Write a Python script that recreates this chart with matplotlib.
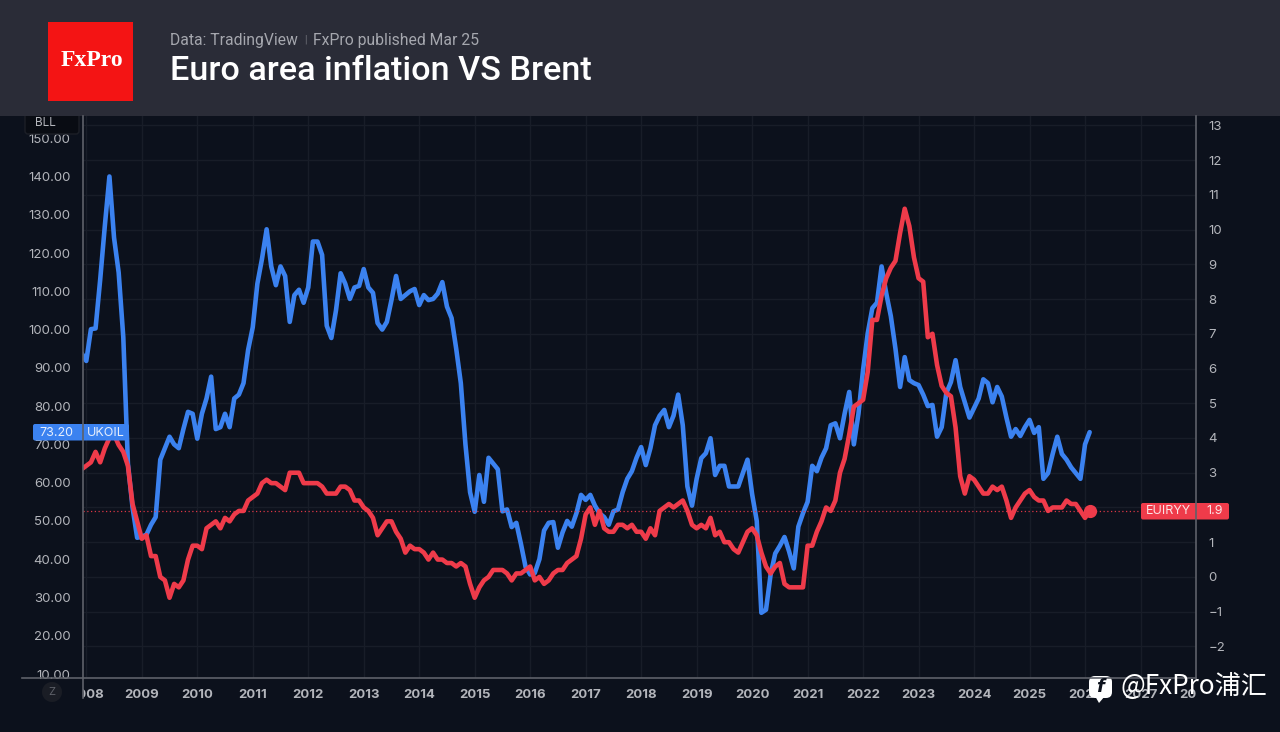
import numpy as np
import matplotlib
matplotlib.use("Agg")
import matplotlib.pyplot as plt
from matplotlib.patches import Rectangle, FancyBboxPatch, Polygon, Circle
from matplotlib.transforms import Bbox

# monthly values, first one is Dec 2007 (hidden behind the axis)
ukoil = [93.8,
    91.8, 100.1, 100.3, 113, 127, 140, 124, 114.9, 98, 65, 53.5, 45.6,
    45.9, 46.4, 49, 51, 66, 69, 72, 70, 69, 74, 78.5, 78,
    71.5, 78, 82, 87.7, 74, 74.5, 78, 74.5, 82, 83, 86, 94.7,
    100.6, 112, 118.5, 126.2, 116.5, 111.6, 116.5, 114, 102, 109, 110.4, 107,
    111, 123, 123, 119.5, 101, 97.8, 105, 114.7, 112, 108, 111, 111.4,
    115.8, 111, 109.6, 101.7, 100, 102, 107.7, 114, 108, 109, 110, 110.6,
    106.4, 109, 107.7, 108, 109.4, 112.4, 106, 103, 95, 86, 70, 57.5,
    52.4, 62, 55, 66.5, 65, 63.5, 52.5, 53, 48.4, 49.5, 44, 38,
    36, 36.4, 40, 47.5, 49.5, 49.7, 43, 47, 50, 48.5, 52, 56.8,
    55.5, 56.8, 54, 52, 51, 49, 52.5, 53, 57.5, 61, 63, 66.5,
    69.3, 64.6, 69, 75, 77.5, 79, 74.5, 77.5, 83, 75, 59, 54,
    61, 66.4, 67.7, 71.6, 62, 64.4, 64.4, 59, 59, 59, 62.5, 66,
    57, 50, 26, 26.8, 36, 41.5, 43.5, 45.8, 42, 37.6, 48.5, 52,
    55, 64.4, 63, 66.5, 69, 75, 75.5, 71.6, 78, 83.7, 70, 78,
    89.5, 99, 105.6, 107, 116.5, 109.5, 103.5, 95, 85, 92.8, 86.8, 86,
    85.5, 83, 80, 80.3, 72, 74.5, 83.4, 86.3, 92, 85, 81, 77,
    79.5, 82, 87, 86, 81, 85, 82.5, 77, 72, 74, 72.2, 74.5,
    76.4, 73, 74.5, 61, 62.5, 67.5, 72, 67.5, 66, 64, 62.5, 61,
    70, 73.2]

euiryy = [3.1,
    3.2, 3.3, 3.6, 3.3, 3.7, 4.0, 4.1, 3.8, 3.6, 3.2, 2.1, 1.6,
    1.1, 1.2, 0.6, 0.6, 0.0, -0.1, -0.6, -0.2, -0.3, -0.1, 0.5, 0.9,
    0.9, 0.8, 1.4, 1.5, 1.6, 1.4, 1.7, 1.6, 1.8, 1.9, 1.9, 2.2,
    2.3, 2.4, 2.7, 2.8, 2.7, 2.7, 2.6, 2.5, 3.0, 3.0, 3.0, 2.7,
    2.7, 2.7, 2.7, 2.6, 2.4, 2.4, 2.4, 2.6, 2.6, 2.5, 2.2, 2.2,
    2.0, 1.9, 1.7, 1.2, 1.4, 1.6, 1.6, 1.3, 1.1, 0.7, 0.9, 0.8,
    0.8, 0.7, 0.5, 0.7, 0.5, 0.5, 0.4, 0.4, 0.3, 0.4, 0.3, -0.2,
    -0.6, -0.3, -0.1, 0.0, 0.2, 0.2, 0.2, 0.1, -0.1, 0.1, 0.1, 0.2,
    0.3, -0.1, 0.0, -0.2, -0.1, 0.1, 0.2, 0.2, 0.4, 0.5, 0.6, 1.1,
    1.8, 2.0, 1.5, 1.9, 1.4, 1.3, 1.3, 1.5, 1.5, 1.4, 1.5, 1.3,
    1.3, 1.1, 1.4, 1.2, 1.9, 2.0, 2.1, 2.0, 2.1, 2.2, 1.9, 1.5,
    1.4, 1.5, 1.4, 1.7, 1.2, 1.3, 1.0, 1.0, 0.8, 0.7, 1.0, 1.3,
    1.4, 1.2, 0.7, 0.3, 0.1, 0.3, 0.4, -0.2, -0.3, -0.3, -0.3, -0.3,
    0.9, 0.9, 1.3, 1.6, 2.0, 1.9, 2.2, 3.0, 3.4, 4.1, 4.9, 5.0,
    5.1, 5.9, 7.4, 7.4, 8.1, 8.6, 8.9, 9.1, 9.9, 10.6, 10.1, 9.2,
    8.6, 8.5, 6.9, 7.0, 6.1, 5.5, 5.3, 5.2, 4.3, 2.9, 2.4, 2.9,
    2.8, 2.6, 2.4, 2.4, 2.6, 2.5, 2.6, 2.2, 1.7, 2.0, 2.2, 2.4,
    2.5, 2.3, 2.2, 2.2, 1.9, 2.0, 2.0, 2.0, 2.2, 2.1, 2.1, 1.9,
    1.7, 1.9]

years = list(range(2008, 2029))
left_ticks = [10, 20, 30, 40, 50, 60, 70, 80, 90, 100, 110, 120, 130, 140, 150]
right_ticks = list(range(-2, 14))

BG = "#0c111c"
HEADER = "#2a2c37"
GRID = "#181d28"
AXIS = "#5e6169"
LABEL = "#b3b5bb"
BLUE = "#3b82f0"
RED = "#ef3b4a"
FONT = "Inter"

months = np.arange(-1, len(ukoil) - 1)

fig = plt.figure(figsize=(12.8, 7.32), dpi=100, facecolor=BG)
rect = [83 / 1280, (732 - 678) / 732, (1196 - 83) / 1280, (678 - 116) / 732]

# right scale sits at the bottom, it owns the grid
ax_r = fig.add_axes(rect, facecolor=BG)
ax_r.set_xlim((83 - 86.3) / 4.625, (1196 - 86.3) / 4.625)
ax_r.set_ylim(-2.91, 13.27)
ax_r.set_yticks(right_ticks)
ax_r.set_yticklabels([str(t).replace("-", "\u2212") for t in right_ticks])
ax_r.set_xticks([(y - 2008) * 12 for y in years])
ax_r.set_xticklabels([str(y) for y in years])
ax_r.grid(True, color=GRID, lw=1)
ax_r.set_axisbelow(True)

ax_l = ax_r.twinx()
ax_l.set_ylim(8.96, 155.8)
ax_l.set_yticks(left_ticks)
ax_l.set_yticklabels([f"{t:.2f}" for t in left_ticks])
ax_l.plot(months, ukoil, color=BLUE, lw=3.3, solid_joinstyle="round", solid_capstyle="round")

ax_top = ax_r.twinx()
ax_top.set_ylim(ax_r.get_ylim())
ax_top.axis("off")
ax_top.axhline(euiryy[-1], color=RED, lw=0.9, ls=(0, (1, 2)), alpha=0.9)
ax_top.plot(months, euiryy, color=RED, lw=3.3, solid_joinstyle="round", solid_capstyle="round")
ax_top.plot(months[-1], euiryy[-1], "o", color=RED, ms=8.5)

# twinx flips the sides, so set them after
ax_r.yaxis.tick_right()
ax_l.yaxis.tick_left()
ax_r.tick_params(axis="both", length=0, colors=LABEL, labelsize=9.5)
ax_r.tick_params(axis="y", pad=9)
ax_r.tick_params(axis="x", pad=8)
ax_l.tick_params(axis="y", length=0, colors=LABEL, labelsize=9.5, pad=9)

clip = Bbox([[83, 0], [1196, 732]])
for t in ax_r.get_xticklabels():
    t.set_fontfamily(FONT)
    t.set_fontweight("bold")
    t.set_clip_box(clip)
    t.set_clip_on(True)
for t in ax_r.get_yticklabels() + ax_l.get_yticklabels():
    t.set_fontfamily(FONT)

for a in (ax_r, ax_l):
    for s in a.spines.values():
        s.set_visible(False)

# overlay in pixel coordinates for header, badges and watermark
ov = fig.add_axes([0, 0, 1, 1], facecolor="none")
ov.set_xlim(0, 1280)
ov.set_ylim(732, 0)
ov.axis("off")

ov.plot([83, 83], [116, 698], color=AXIS, lw=1.2)
ov.plot([1196, 1196], [116, 678], color=AXIS, lw=1.2)
ov.plot([22, 1196], [678, 678], color=AXIS, lw=1.2)

ov.add_patch(FancyBboxPatch((25, 112), 54, 22, boxstyle="round,pad=0,rounding_size=3", fc="#090c13", ec="#1c1f27", lw=1))
ov.text(45, 123, "BLL", color=LABEL, family=FONT, size=8.5, ha="center", va="center")

ov.add_patch(Rectangle((0, 0), 1280, 116, color=HEADER, lw=0))
ov.add_patch(Rectangle((48, 22), 85, 79, color="#f41414", lw=0))
ov.text(92, 61, "FxPro", color="white", family="Liberation Serif", size=17, fontweight="bold", ha="center", va="center")
ov.text(170, 40, "Data: TradingView", color="#a5a7ae", family="Roboto", size=11.3, va="center")
ov.text(305.5, 40, "|", color="#70727a", family="Roboto", size=7, va="center", ha="center")
ov.text(313, 40, "FxPro published Mar 25", color="#a5a7ae", family="Roboto", size=11.3, va="center")
ov.text(170, 70.5, "Euro area inflation VS Brent", color="white", family="Roboto", size=24.6, va="center", fontweight="medium")

ov.add_patch(FancyBboxPatch((33, 424), 96, 16.5, boxstyle="round,pad=0,rounding_size=2", fc=BLUE, ec="none"))
ov.text(39, 432.5, "73.20", color="#e6eefc", family=FONT, size=9, va="center")
ov.text(87, 432.5, "UKOIL", color="#e6eefc", family=FONT, size=9, va="center")

ov.add_patch(FancyBboxPatch((1141, 503), 88, 16.5, boxstyle="round,pad=0,rounding_size=2", fc=RED, ec="none"))
ov.text(1146, 511.5, "EUIRYY", color="#fbe3e5", family=FONT, size=9, va="center")
ov.text(1206, 511.5, "1.9", color="#fbe3e5", family=FONT, size=9, va="center")

ov.add_patch(Circle((52, 692), 10, color="#1a1d25", lw=0))
ov.text(52, 692, "Z", color="#5e6169", family=FONT, size=8, ha="center", va="center")

# watermark
ov.add_patch(FancyBboxPatch((1089, 676), 23, 22, boxstyle="round,pad=0,rounding_size=6", fc="white", ec="none"))
ov.add_patch(Polygon([[1095, 696], [1099, 703], [1105, 696]], fc="white", ec="none"))
ov.text(1100.5, 687, "f", color=BG, family="DejaVu Sans", size=13, fontweight="bold", fontstyle="italic", ha="center", va="center")
ov.text(1120, 686.5, "@FxPro浦汇", color="white", family=["Noto Sans CJK SC", "DejaVu Sans"], size=18.8, va="center")

fig.savefig("out.png", dpi=100, facecolor=BG)
